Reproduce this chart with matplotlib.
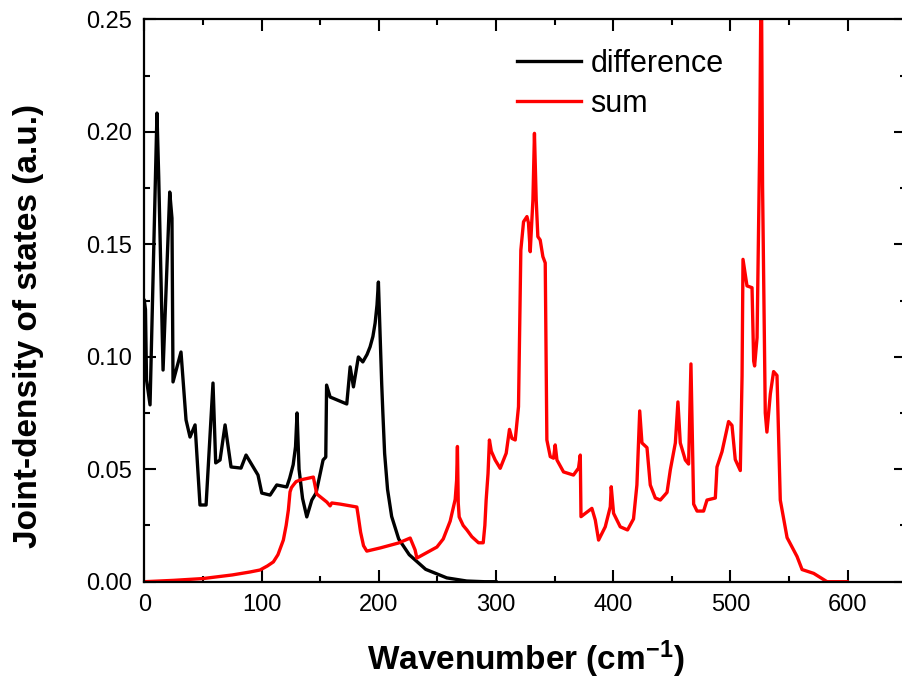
import numpy as np
import matplotlib
matplotlib.use("Agg")
import matplotlib.pyplot as plt
from matplotlib.ticker import MultipleLocator, FormatStrFormatter

plt.rcParams['font.family'] = ['Liberation Sans', 'DejaVu Sans']
plt.rcParams['mathtext.default'] = 'regular'

# difference curve (wavenumber cm-1, JDOS a.u.)
diff_x = [0.0, 1.0, 1.9, 4.9, 10.8, 12.3, 16.0, 21.7, 23.6, 24.5, 31.3, 35.6, 39.0, 43.3,
          47.5, 52.7, 58.6, 60.9, 64.6, 68.9, 74.0, 82.5, 86.8, 97.0, 100.2, 107.3, 113.0,
          121.5, 124.0, 127.0, 129.0, 130.3, 132.0, 135.0, 138.6, 142.9, 146.5, 152.5,
          154.8, 155.5, 158.5, 172.7, 175.6, 178.4, 182.6, 186.4, 190.0, 192.6, 195.0,
          196.9, 198.5, 199.7, 201.0, 202.5, 203.5, 205.0, 207.5, 211.0, 217.0, 226.0,
          240.0, 258.0, 275.0, 290.0, 300.0]
diff_y = [0.125, 0.121, 0.0897, 0.0786, 0.2083, 0.1799, 0.0941, 0.1732, 0.1616, 0.0888,
          0.1021, 0.0719, 0.0643, 0.0697, 0.0341, 0.0341, 0.0883, 0.0528, 0.0541, 0.0697,
          0.051, 0.0505, 0.0563, 0.0474, 0.0394, 0.0385, 0.043, 0.0421, 0.046, 0.052,
          0.060, 0.075, 0.050, 0.037, 0.0288, 0.0363, 0.0394, 0.0541, 0.0554, 0.0874,
          0.0821, 0.079, 0.0955, 0.0866, 0.0999, 0.0977, 0.101, 0.1044, 0.109, 0.115,
          0.123, 0.1332, 0.112, 0.088, 0.075, 0.057, 0.041, 0.029, 0.019, 0.012, 0.0055,
          0.0017, 0.0003, 0.0, 0.0]

# sum curve
sum_x = [0.0, 25.0, 50.1, 75.0, 90.0, 98.7, 105.0, 110.1, 114.0, 118.6, 121.0, 122.9,
         124.3, 125.5, 127.2, 129.5, 132.9, 144.2, 147.1, 155.7, 158.5, 159.9, 167.0,
         181.3, 182.6, 184.5, 187.0, 189.8, 201.2, 216.8, 226.8, 231.0, 232.5, 249.6,
         255.0, 260.9, 265.2, 266.4, 267.1, 267.8, 268.6, 272.0, 275.2, 279.4, 285.1,
         289.1, 290.5, 291.6, 293.2, 294.4, 296.0, 299.3, 303.6, 308.7, 311.5, 313.6,
         316.4, 319.2, 321.2, 323.5, 326.4, 327.7, 329.2, 331.5, 332.8, 334.3, 335.7,
         337.7, 340.0, 342.0, 343.4, 346.3, 349.1, 350.5, 352.0, 357.6, 366.1, 370.4,
         371.9, 372.5, 381.8, 384.7, 387.5, 393.2, 397.5, 398.3, 400.3, 406.0, 412.2,
         417.3, 420.2, 422.6, 424.5, 428.8, 431.6, 435.9, 440.2, 445.9, 448.7, 453.0,
         455.2, 457.2, 461.5, 464.3, 466.3, 468.6, 471.5, 477.1, 480.0, 487.1, 488.5,
         492.8, 498.4, 501.3, 504.1, 508.4, 509.9, 510.7, 514.1, 518.4, 519.8, 520.6,
         522.7, 524.9, 526.3, 527.4, 529.7, 531.1, 534.0, 536.8, 539.7, 542.5, 548.3,
         556.8, 561.1, 571.0, 582.4, 599.5]
sum_y = [0.0, 0.0006, 0.0014, 0.003, 0.0043, 0.0052, 0.007, 0.0088, 0.012, 0.0185,
         0.025, 0.0319, 0.0399, 0.0418, 0.043, 0.0445, 0.0452, 0.0465, 0.039, 0.0354,
         0.0337, 0.035, 0.0345, 0.0332, 0.0288, 0.022, 0.016, 0.0136, 0.015, 0.0172,
         0.0194, 0.0141, 0.0105, 0.0154, 0.019, 0.0269, 0.0366, 0.045, 0.0601, 0.035,
         0.0288, 0.025, 0.023, 0.020, 0.0173, 0.0173, 0.025, 0.0363, 0.048, 0.063, 0.058,
         0.0541, 0.0504, 0.0571, 0.0677, 0.0637, 0.063, 0.0778, 0.1474, 0.160, 0.1623,
         0.1595, 0.1467, 0.1697, 0.1993, 0.1697, 0.1534, 0.1519, 0.1445, 0.1417, 0.063,
         0.0556, 0.0549, 0.0608, 0.0541, 0.0488, 0.0474, 0.0505, 0.0563, 0.0289, 0.0326,
         0.0274, 0.0185, 0.0244, 0.0333, 0.0422, 0.0304, 0.0244, 0.023, 0.0279, 0.043,
         0.0759, 0.0617, 0.0596, 0.043, 0.0372, 0.0363, 0.0397, 0.0497, 0.0617, 0.0799,
         0.0617, 0.0541, 0.0523, 0.0968, 0.0345, 0.0314, 0.0314, 0.0363, 0.0372, 0.051,
         0.0578, 0.0712, 0.0695, 0.0543, 0.0494, 0.0914, 0.1433, 0.1315, 0.1307, 0.0981,
         0.0959, 0.1085, 0.1923, 0.28, 0.1755, 0.075, 0.0665, 0.0834, 0.0934, 0.0917,
         0.0363, 0.0196, 0.0112, 0.0054, 0.0037, 0.0, 0.0]

fig = plt.figure(figsize=(9.03, 6.82), dpi=100)
ax = fig.add_axes([144.3 / 903, 100.3 / 682, 762 / 903, 562.4 / 682])

ax.plot(diff_x, diff_y, color='black', lw=2.4, label='difference')
ax.plot(sum_x, sum_y, color='#ff0000', lw=2.4, label='sum')

ax.set_xlim(0, 650)
ax.set_ylim(0, 0.25)
ax.xaxis.set_major_locator(MultipleLocator(100))
ax.xaxis.set_minor_locator(MultipleLocator(50))
ax.yaxis.set_major_locator(MultipleLocator(0.05))
ax.yaxis.set_minor_locator(MultipleLocator(0.025))
ax.yaxis.set_major_formatter(FormatStrFormatter('%.2f'))

ax.tick_params(which='both', direction='in', top=True, right=True, width=1.5,
               labelsize=17, colors='black')
ax.tick_params(which='major', length=8.6, pad=9)
ax.tick_params(which='minor', length=4.4)
for s in ax.spines.values():
    s.set_linewidth(1.6)

ax.set_xlabel('Wavenumber (cm$^{-1}$)', fontsize=24, fontweight='bold', labelpad=16)
ax.set_ylabel('Joint-density of states (a.u.)', fontsize=24, fontweight='bold')
ax.yaxis.set_label_coords(-0.131, 0.455)

ax.legend(loc='upper left', bbox_to_anchor=(517 / 903, 1 - 49 / 682),
          bbox_transform=fig.transFigure, frameon=False, fontsize=22,
          handlelength=2.1, handletextpad=0.3, labelspacing=0.33,
          borderpad=0, borderaxespad=0)

fig.savefig('out.png', dpi=100)
